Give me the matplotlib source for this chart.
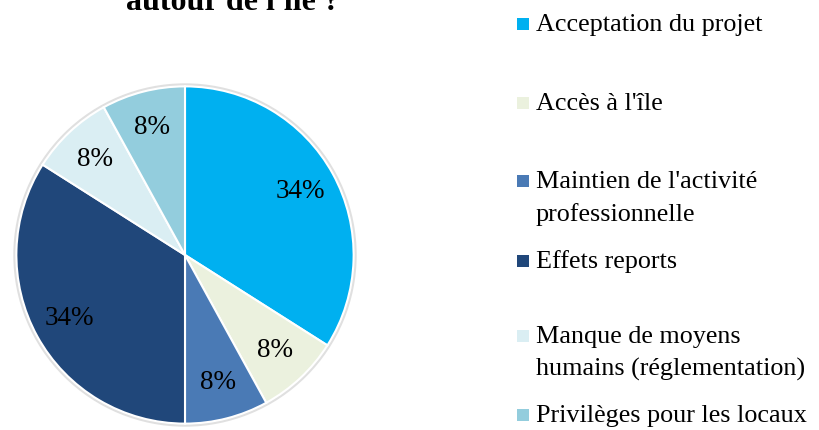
import numpy as np
import matplotlib.pyplot as plt
from matplotlib.patches import Rectangle, Circle

# Data
labels = ["Acceptation du projet", "Accès à l'île",
          "Maintien de l'activité\nprofessionnelle", "Effets reports",
          "Manque de moyens\nhumains (réglementation)", "Privilèges pour les locaux"]
values = [34, 8, 8, 34, 8, 8]
colors = ["#00B0F0", "#EBF1DE", "#4A7AB5", "#20477A", "#DAEEF3", "#93CDDD"]
title_text = "autour de l'île ?"

W, H = 819, 430
fig = plt.figure(figsize=(W / 100, H / 100), dpi=100)
serif = ["Liberation Serif", "DejaVu Serif"]

# pie placed by pixel centre / radius
cx, cy, r = 185, 255, 172
ax = fig.add_axes([(cx - r) / W, (H - cy - r) / H, 2 * r / W, 2 * r / H])
ax.add_patch(Circle((0, 0), 1.01, facecolor="none", edgecolor="#e0e0e0", linewidth=2, zorder=0))
wedges, texts = ax.pie(values, colors=colors, startangle=90, counterclock=False,
                       wedgeprops=dict(edgecolor="white", linewidth=1.5))
for w, v in zip(wedges, values):
    ang = np.deg2rad((w.theta1 + w.theta2) / 2)
    d = 0.78
    ax.text(d * np.cos(ang), d * np.sin(ang), f"{v}%", ha="center", va="center",
            fontsize=19.5, family=serif, color="black")
ax.set_xlim(-1.02, 1.02)
ax.set_ylim(-1.02, 1.02)
ax.set_aspect("equal")
ax.axis("off")

# title (its upper part is cut by the image edge, as in the original)
fig.text(233 / W, 1 - 10 / H, title_text, ha="center", va="baseline",
         fontsize=23, fontweight="bold", family=serif)

# legend, laid out like the original (baseline of first line per entry)
baselines = [31, 110, 188, 268, 343, 422]
line_gap = 33
for lab, col, base in zip(labels, colors, baselines):
    fig.patches.append(Rectangle((517 / W, 1 - (base - 1) / H), 12 / W, 12 / H,
                                 transform=fig.transFigure, facecolor=col, edgecolor="none"))
    for i, line in enumerate(lab.split("\n")):
        fig.text(536 / W, 1 - (base + i * line_gap) / H, line, ha="left", va="baseline",
                 fontsize=18.8, family=serif)

fig.savefig("out.png", dpi=100)
